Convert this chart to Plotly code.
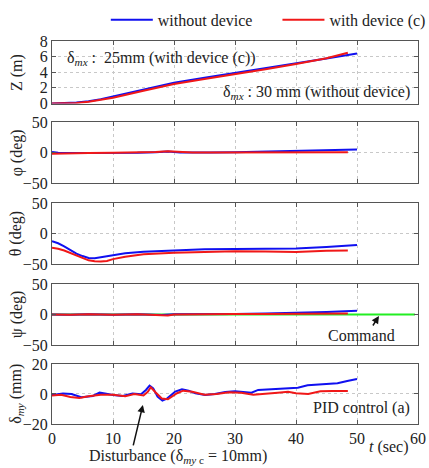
import plotly.graph_objects as go
from plotly.subplots import make_subplots

# ---- Trajectory data (time in seconds) ----
t_z_wo = [0, 2, 4, 6, 8, 10, 15, 20, 25, 30, 35, 40, 45, 50]
z_wo = [0, 0.02, 0.12, 0.3, 0.55, 0.9, 1.8, 2.65, 3.3, 3.9, 4.5, 5.1, 5.75, 6.4]
t_z_w = [0, 2, 4, 6, 8, 10, 15, 20, 25, 30, 35, 40, 45, 48.5]
z_w = [0, 0, 0.06, 0.22, 0.45, 0.75, 1.62, 2.5, 3.15, 3.75, 4.38, 5.05, 5.8, 6.5]

t_phi_wo = [0, 1, 3, 6, 10, 14, 17, 19, 21, 23, 26, 30, 35, 40, 45, 50]
phi_wo = [1, -0.5, -1, -1, -1, -0.5, 0.5, 1.5, 0, -0.5, 0, 0.5, 1.5, 2.5, 3.5, 5]
t_phi_w = [0, 1, 3, 6, 10, 14, 17, 19, 21, 23, 26, 30, 35, 40, 45, 48.5]
phi_w = [-2, -2, -1.5, -1, -0.5, 0, 1, 2, 0.5, 0, 0, 0, 0.5, 1, 1, 0.5]

t_th_wo = [0, 1, 2, 3, 4, 5, 6, 7, 8, 10, 12, 15, 20, 25, 30, 35, 40, 45, 50]
th_wo = [-12.6, -16, -21, -27, -33, -37, -40, -40.5, -39, -35.5, -32.5, -30,
         -27.5, -26, -25.5, -25, -24.5, -22, -19]
t_th_w = [0, 1, 2, 3, 4, 5, 6, 7, 8, 9, 10, 12, 15, 20, 25, 30, 35, 40, 45, 48.5]
th_w = [-23.5, -25, -28, -32, -37, -41, -44, -45.5, -46, -45, -42, -38, -34,
        -31.5, -30, -29, -29.5, -30.5, -28.5, -28]

t_psi_wo = [0, 3, 6, 10, 14, 16, 18, 20, 23, 27, 30, 35, 40, 45, 50]
psi_wo = [0, -0.5, 0.5, -0.5, 0.5, 0, -1, 0.5, 1, 0.5, 1, 1.5, 2.5, 4, 6]
t_psi_w = [0, 3, 6, 10, 14, 16, 17, 18, 19, 20, 23, 27, 30, 35, 40, 45, 48.5]
psi_w = [0, -0.5, 0.5, -0.5, 0.5, -0.5, -1.5, -2, -1.5, 0, 0.5, 0.5, 1, 1, 1, 1, 1.5]
t_cmd = [0, 59.5]
psi_cmd = [0, 0]

t_d_wo = [0, 1.8, 3.2, 4.8, 6.7, 7.8, 8.9, 10, 11.6, 13.2, 14.6, 15.4, 16, 16.6,
          17.3, 18.1, 18.9, 20.2, 21.3, 22.4, 23.5, 25.1, 26.7, 28.4, 30, 31.6,
          32.7, 33.8, 35.4, 37, 38.7, 40.3, 41.9, 43.5, 45.2, 46.8, 48.4, 50]
d_wo = [-0.7, 0.4, 0, -2.2, -1.3, 0.9, 0.2, -0.7, -1.3, 0.4, -0.2, 2.7, 5.6, 3.8,
        -1.8, -4.4, -2.9, 1.6, 3.1, 2.2, 0.4, -0.7, 0, 1.3, 1.8, 1.1,
        0.9, 2.7, 3.1, 3.3, 4, 4.2, 5.8, 6.2, 6.4, 7.1, 8.7, 10]
t_d_w = [0, 1.5, 3, 4.5, 6, 8, 10, 12, 13.5, 15, 15.7, 16.2, 17, 18, 19, 20.5,
         21.5, 23, 25, 27, 29, 31, 33, 35, 37, 38.7, 40, 42, 44, 46, 48.5]
d_w = [-1, -0.5, -2, -2.7, -1.5, -0.5, -0.5, -1.5, 0, -1, 1.5, 4.5, 1, -3, -3.5, 0.5,
       2.2, 1.5, -0.5, 0, 1.2, 0.8, -0.5, 0, 0.8, 1.5, 0.5, 0, 1.8, 2, 2]

BLUE = "#1010f0"
RED = "#f01818"
GREEN = "#22ee22"
FONT = "Liberation Serif"

fig = make_subplots(rows=5, cols=1, shared_xaxes=True)

panels = [
    (t_z_wo, z_wo, t_z_w, z_w),
    (t_phi_wo, phi_wo, t_phi_w, phi_w),
    (t_th_wo, th_wo, t_th_w, th_w),
    (t_psi_wo, psi_wo, t_psi_w, psi_w),
    (t_d_wo, d_wo, t_d_w, d_w),
]

# yaw command line sits beneath the measured curves
fig.add_trace(go.Scatter(x=t_cmd, y=psi_cmd, mode="lines", showlegend=False,
                         line=dict(color=GREEN, width=2)), row=4, col=1)

for i, (ta, ya, tb, yb) in enumerate(panels, start=1):
    fig.add_trace(go.Scatter(x=ta, y=ya, mode="lines",
                             name="without device\u00a0\u00a0\u00a0\u00a0\u00a0",
                             legendgroup="wo", showlegend=(i == 1),
                             line=dict(color=BLUE, width=2)), row=i, col=1)
    fig.add_trace(go.Scatter(x=tb, y=yb, mode="lines", name="with device (c)",
                             legendgroup="w", showlegend=(i == 1),
                             line=dict(color=RED, width=2)), row=i, col=1)

domains = [(0.8368, 1.0), (0.6292, 0.7885), (0.4178, 0.5770),
           (0.2063, 0.3655), (0.0, 0.1567)]
titles = ["Z (m)", "φ (deg)", "θ (deg)", "ψ (deg)", "δ<sub><i>my</i></sub> (mm)"]
ranges = [[0, 8], [-50, 50], [-50, 50], [-50, 50], [-20, 20]]
dticks = [2, 50, 50, 50, 20]

axis_common = dict(showline=True, linecolor="#555", linewidth=1, mirror="ticks",
                   ticks="inside", ticklen=4, tickcolor="#555", automargin=False,
                   showgrid=True, gridcolor="#c8c8c8", griddash="dot", gridwidth=1,
                   zeroline=False, tickfont=dict(family=FONT, size=16, color="#222"))

ann_font = dict(family=FONT, size=16, color="#222")

for i in range(5):
    fig.update_yaxes(row=i + 1, col=1, domain=list(domains[i]), range=ranges[i],
                     dtick=dticks[i], **axis_common)
    fig.update_xaxes(row=i + 1, col=1, range=[0, 60], dtick=10,
                     showticklabels=(i == 4), **axis_common)
    # rotated panel label to the left of the tick labels
    fig.add_annotation(xref="paper", yref="paper", x=-0.096,
                       y=(domains[i][0] + domains[i][1]) / 2, text=titles[i],
                       textangle=-90, showarrow=False, font=ann_font,
                       xanchor="center", yanchor="middle")

annotations = [
    dict(text="δ<sub><i>mx</i></sub> :  25mm (with device (c))", x=0.0355, y=0.9556,
         xanchor="left", yanchor="middle"),
    dict(text="δ<sub><i>mx</i></sub> : 30 mm (without device)", x=0.9836, y=0.8668,
         xanchor="right", yanchor="middle"),
    dict(text="PID control (a)", x=0.9836, y=0.0418, xanchor="right", yanchor="middle"),
    dict(text="<i>t</i> (sec)", x=0.921, y=-0.060, xanchor="center", yanchor="middle"),
    dict(text="Disturbance (δ<sub><i>my</i> c</sub> = 10mm)", x=0.344, y=-0.086,
         xanchor="center", yanchor="middle"),
    dict(text="Command", x=0.845, y=0.232, xanchor="center", yanchor="middle"),
]
for a in annotations:
    fig.add_annotation(xref="paper", yref="paper", showarrow=False, font=ann_font, **a)

# arrows
fig.add_annotation(xref="x4", yref="y4", x=53.6, y=-2.5, ax=-7, ay=11, text="",
                   showarrow=True, arrowhead=2, arrowsize=1, arrowwidth=1.5,
                   arrowcolor="#111")
fig.add_annotation(xref="x5", yref="y5", x=14.9, y=-7.3, ax=-10, ay=42, text="",
                   showarrow=True, arrowhead=2, arrowsize=1, arrowwidth=1.5,
                   arrowcolor="#111")

fig.update_layout(
    width=429, height=468,
    margin=dict(l=52, r=11, t=41, b=44, autoexpand=False),
    paper_bgcolor="white", plot_bgcolor="white",
    font=dict(family=FONT, size=16, color="#222"),
    legend=dict(orientation="h", x=1.035, xanchor="right", y=1.055, yanchor="middle",
                font=dict(family=FONT, size=16, color="#222"),
                bgcolor="rgba(0,0,0,0)", itemwidth=42, tracegroupgap=0),
)

fig.write_html("out.html")
